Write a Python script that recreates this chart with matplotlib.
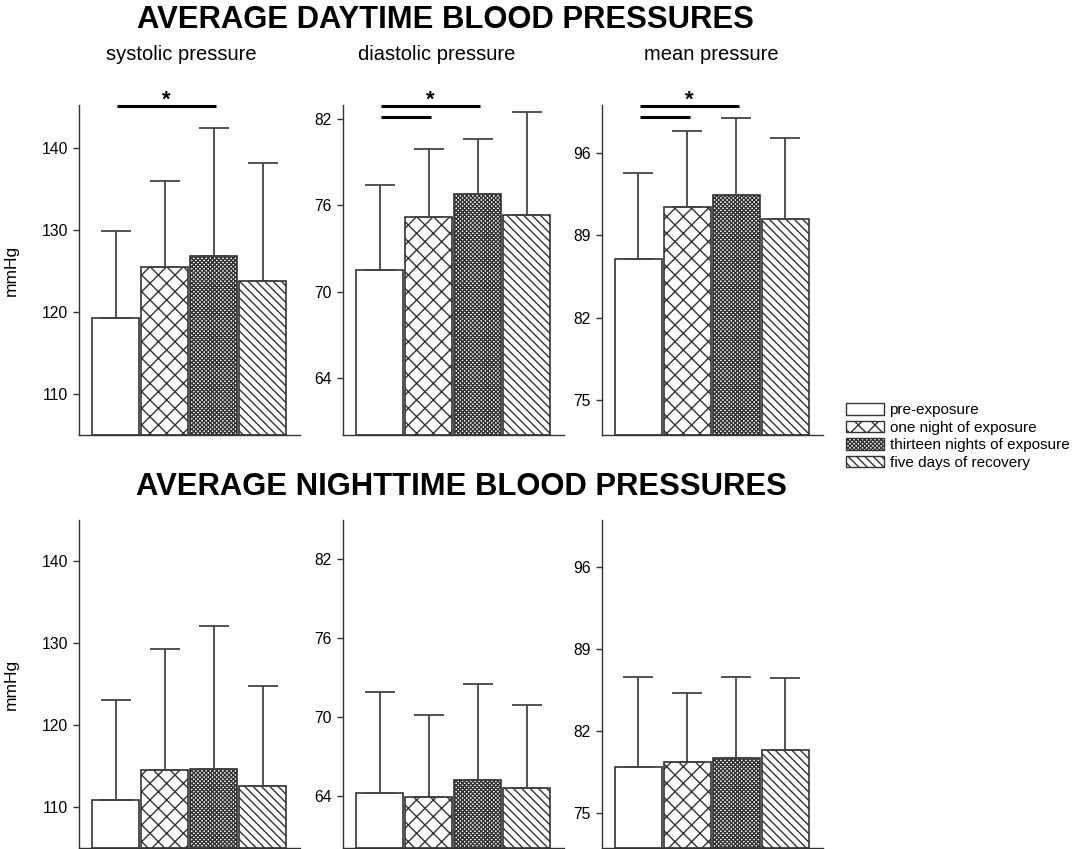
import matplotlib
matplotlib.use("Agg")
import matplotlib.pyplot as plt
import matplotlib.transforms as mtransforms
from matplotlib.patches import Patch

plt.rcParams['font.family'] = ['Liberation Sans', 'DejaVu Sans']
plt.rcParams['hatch.linewidth'] = 1.0

# ---------------- data ----------------
conditions = ["pre-exposure", "one night of exposure",
              "thirteen nights of exposure", "five days of recovery"]
panel_titles = ["systolic pressure", "diastolic pressure", "mean pressure"]

day_sys_mean = [119.2, 125.5, 126.8, 123.8]
day_sys_sd = [10.7, 10.5, 15.6, 14.3]
day_dia_mean = [71.5, 75.2, 76.8, 75.3]
day_dia_sd = [5.9, 4.7, 3.8, 7.2]
day_map_mean = [87.0, 91.4, 92.4, 90.4]
day_map_sd = [7.3, 6.5, 6.6, 6.9]

night_sys_mean = [110.8, 114.5, 114.6, 112.6]
night_sys_sd = [12.2, 14.8, 17.5, 12.2]
night_dia_mean = [64.2, 63.9, 65.2, 64.6]
night_dia_sd = [7.7, 6.2, 7.3, 6.3]
night_map_mean = [78.9, 79.3, 79.7, 80.4]
night_map_sd = [7.7, 5.9, 6.9, 6.1]

sys_ticks = [110, 120, 130, 140]
dia_ticks = [64, 70, 76, 82]
map_ticks = [75, 82, 89, 96]

# significance brackets (from bar, to bar) per daytime panel
sig_sys = [(0, 2)]
sig_dia = [(0, 2), (0, 1)]
sig_map = [(0, 2), (0, 1)]

# ---------------- style ----------------
hatches = ['', 'xx', 'xxxxxxxx', '\\\\\\\\']
edge = '#333333'

W, H = 1076, 849
fig = plt.figure(figsize=(W / 100, H / 100), dpi=100)


def px_axes(left, top, width, height):
    return fig.add_axes([left / W, 1 - (top + height) / H, width / W, height / H])


lefts = [79, 343, 601.7]
rows = [
    dict(top=105, height=330,
         means=[day_sys_mean, day_dia_mean, day_map_mean],
         sds=[day_sys_sd, day_dia_sd, day_map_sd],
         ylims=[(105, 145.2), (60, 83), (72, 100.1)],
         sigs=[sig_sys, sig_dia, sig_map]),
    dict(top=520, height=328,
         means=[night_sys_mean, night_dia_mean, night_map_mean],
         sds=[night_sys_sd, night_dia_sd, night_map_sd],
         ylims=[(105, 145), (60, 85), (72, 100)],
         sigs=[[], [], []]),
]
ticks = [sys_ticks, dia_ticks, map_ticks]
x = list(range(len(conditions)))

for r, row in enumerate(rows):
    for c in range(3):
        ax = px_axes(lefts[c], row['top'], 221, row['height'])
        means = row['means'][c]
        sds = row['sds'][c]
        lo, hi = row['ylims'][c]
        for i in x:
            ax.bar(i, means[i] - lo, bottom=lo, width=0.96, facecolor='white',
                   edgecolor=edge, linewidth=1.2, hatch=hatches[i], zorder=2)
        ax.errorbar(x, means, yerr=[[0] * 4, sds], fmt='none', ecolor='#444444',
                    elinewidth=1.3, capsize=11, capthick=1.3, zorder=3)
        ax.set_xlim(-0.745, 3.765)
        ax.set_ylim(lo, hi)
        ax.set_yticks(ticks[c])
        ax.set_xticks([])
        for s in ['top', 'right']:
            ax.spines[s].set_visible(False)
        for s in ['left', 'bottom']:
            ax.spines[s].set_color(edge)
            ax.spines[s].set_linewidth(1.0)
        ax.tick_params(axis='y', direction='out', length=4, width=1,
                       color=edge, labelsize=11.3, pad=4)
        if c == 0:
            ax.set_ylabel('mmHg', fontsize=12.5)
            ax.yaxis.set_label_coords(-60 / 221, 0.5)
        trans = mtransforms.blended_transform_factory(ax.transData, ax.transAxes)
        for k, (a, b) in enumerate(row['sigs'][c]):
            yy = 0.997 - k * 0.032
            ax.plot([a + 0.03, b + 0.05], [yy, yy], color='black', lw=2.2,
                    transform=trans, clip_on=False, solid_capstyle='butt')
        if row['sigs'][c]:
            a, b = row['sigs'][c][0]
            ax.text((a + b) / 2 + 0.04, 0.984, '*', transform=trans, ha='center',
                    va='bottom', fontsize=16, fontweight='bold')

# titles
fig.text(445 / W, 1 - 19.5 / H, 'AVERAGE DAYTIME BLOOD PRESSURES', ha='center',
         va='center', fontsize=22.3, fontweight='bold')
fig.text(461 / W, 1 - 487 / H, 'AVERAGE NIGHTTIME BLOOD PRESSURES', ha='center',
         va='center', fontsize=22.3, fontweight='bold')
for xc, t in zip([181, 437, 711], panel_titles):
    fig.text(xc / W, 1 - 55 / H, t, ha='center', va='center', fontsize=14.5)

handles = [Patch(facecolor='white', edgecolor=edge, hatch=h, linewidth=1.0)
           for h in hatches]
fig.legend(handles, conditions, loc='upper left',
           bbox_to_anchor=(846 / W, 1 - 403 / H), frameon=False, fontsize=11,
           handlelength=2.5, handleheight=0.8, handletextpad=0.35,
           labelspacing=0.22, borderpad=0, borderaxespad=0)

fig.savefig('out.png', dpi=100)
